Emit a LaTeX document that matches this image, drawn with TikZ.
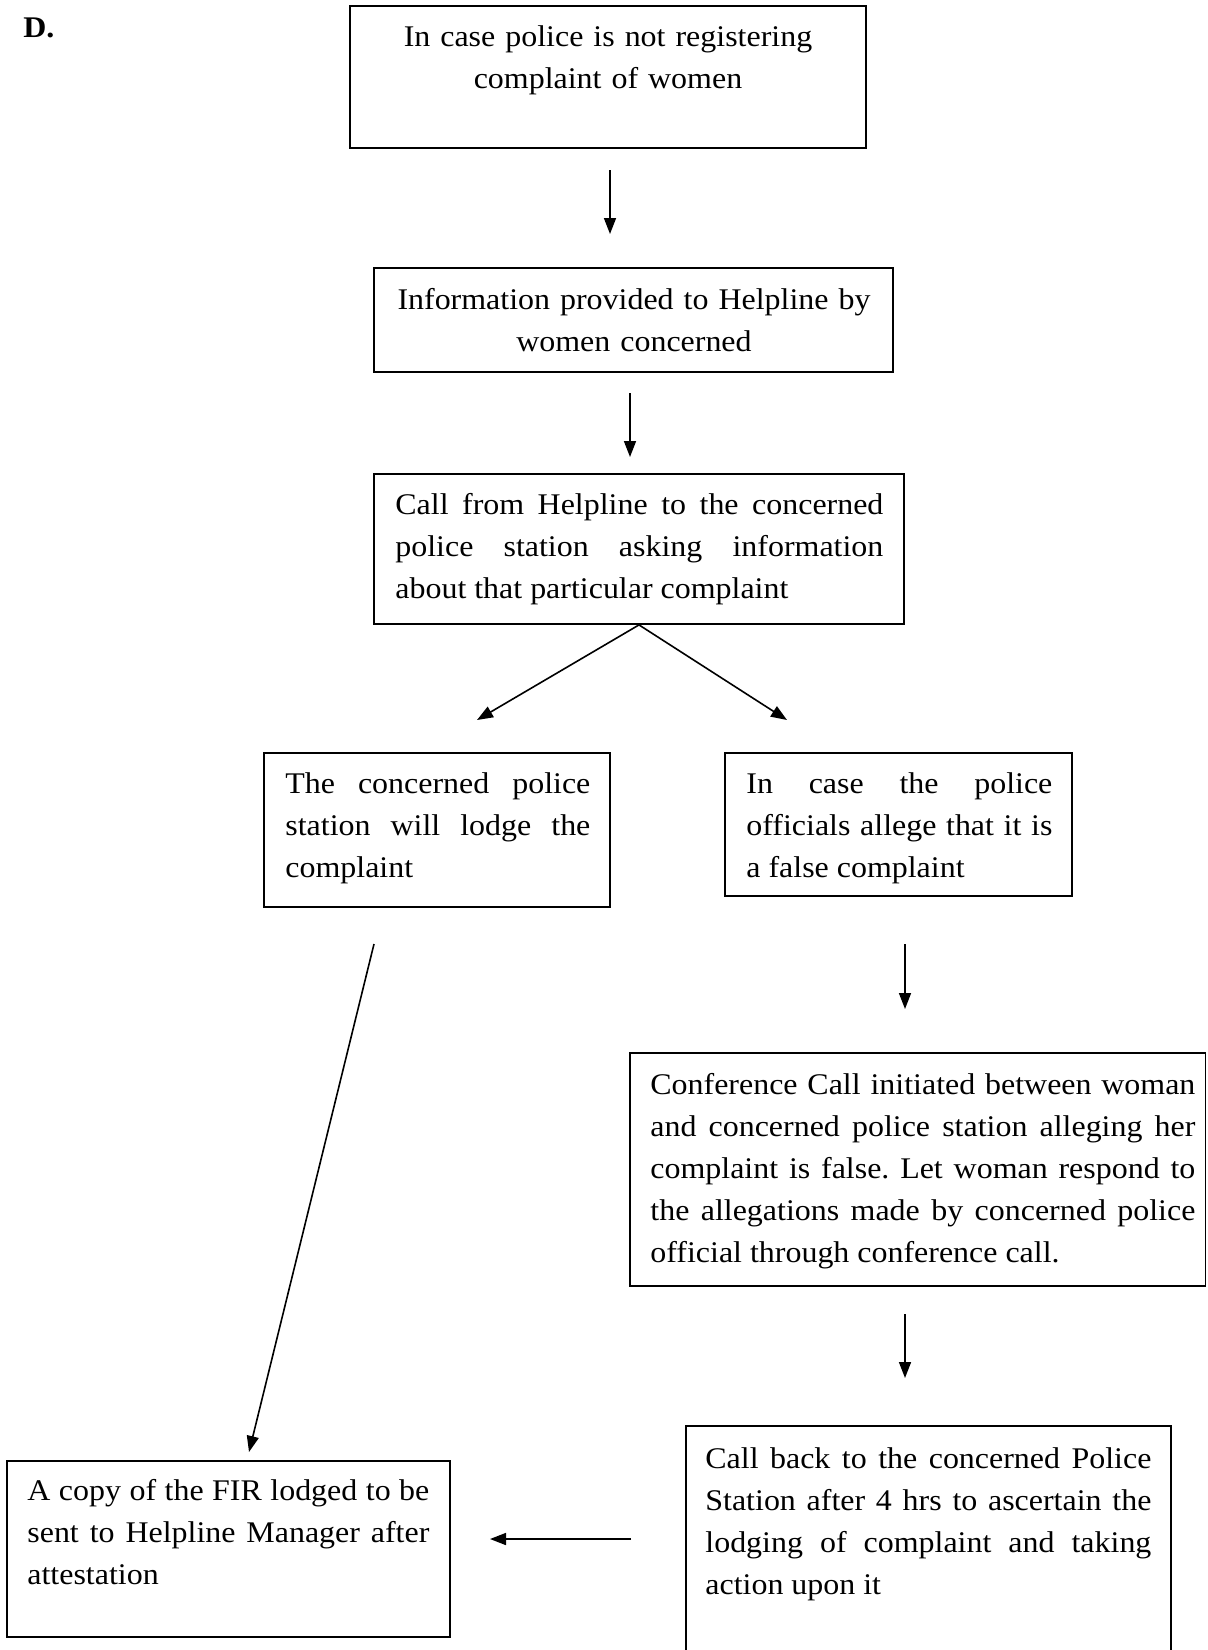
\documentclass[tikz,border=0pt]{standalone}
\usepackage{fontspec}
\setmainfont{Liberation Serif}[FakeStretch=1.065]
\frenchspacing
\usetikzlibrary{arrows.meta,fit}
\begin{document}
\begin{tikzpicture}[x=0.5pt,y=-0.5pt,
  box/.style={draw,line width=0.9pt,inner sep=0pt},
  body/.style={inner sep=0pt,font=\fontsize{15pt}{21pt}\selectfont},
  jtext/.style={body,anchor=base west,align=justify},
  ctext/.style={body,anchor=base,align=center},
  flow/.style={line width=0.8pt,-{Triangle[length=8pt,width=6pt]}}]
\useasboundingbox (0,0) rectangle (1207,1650);

% section letter
\node[body,anchor=base west,font=\fontsize{15pt}{21pt}\selectfont\bfseries] (sec) at (23,37) {D.};

% boxes
\node[box,fit={(350,6) (866,148)}] (b1) {};
\node[box,fit={(374,268) (893,372)}] (b2) {};
\node[box,fit={(374,474) (904,624)}] (b3) {};
\node[box,fit={(264,753) (610,907)}] (b4) {};
\node[box,fit={(725,753) (1072,896)}] (b5) {};
\node[box,fit={(630,1053) (1205.5,1286)}] (b6) {};
\node[box,fit={(686,1426) (1171,1665)}] (b7) {};
\node[box,fit={(7,1461) (450,1637)}] (b8) {};

% texts
\node[ctext,text width=260pt] (t1) at (608,46)
  {In case police is not registering\\complaint of women};
\node[ctext,text width=260pt] (t2) at (634,309)
  {Information provided to Helpline by\\women concerned};
\node[jtext,text width=244pt] (t3) at (395,514)
  {Call from Helpline to the concerned\linebreak police station asking information\linebreak about that particular complaint};
\node[jtext,text width=152.5pt] (t4) at (285,793)
  {The concerned police\linebreak station will lodge the\linebreak complaint};
\node[jtext,text width=153pt] (t5) at (746,793)
  {In case the police\linebreak officials allege that it is\linebreak a false complaint};
\node[jtext,text width=272.5pt] (t6) at (650,1094)
  {Conference Call initiated between woman\linebreak and concerned police station alleging her\linebreak complaint is false. Let woman respond to\linebreak the allegations made by concerned police\linebreak official through conference call.};
\node[jtext,text width=223pt] (t7) at (705,1468)
  {Call back to the concerned Police\linebreak Station after 4 hrs to ascertain the\linebreak lodging of complaint and taking\linebreak action upon it};
\node[jtext,text width=201pt] (t8) at (27,1500)
  {A copy of the FIR lodged to be\linebreak sent to Helpline Manager after\linebreak attestation};

% connector end points
\coordinate (a1s) at (610,170);  \coordinate (a1e) at (610,234);
\coordinate (a2s) at (630,393);  \coordinate (a2e) at (630,457);
\coordinate (dl) at (477,720);   \coordinate (dr) at (787,720);
\coordinate (l1s) at (374,944);  \coordinate (l1e) at (249,1452);
\coordinate (r1s) at (905,944);  \coordinate (r1e) at (905,1009);
\coordinate (r2s) at (905,1314); \coordinate (r2e) at (905,1378);
\coordinate (hs) at (631,1539);  \coordinate (he) at (490,1539);

% connectors
\draw[flow] (a1s) -- (a1e);
\draw[flow] (a2s) -- (a2e);
\draw[flow] (b3.south) -- (dl);
\draw[flow] (b3.south) -- (dr);
\draw[flow] (l1s) -- (l1e);
\draw[flow] (r1s) -- (r1e);
\draw[flow] (r2s) -- (r2e);
\draw[flow] (hs) -- (he);
\end{tikzpicture}
\end{document}
